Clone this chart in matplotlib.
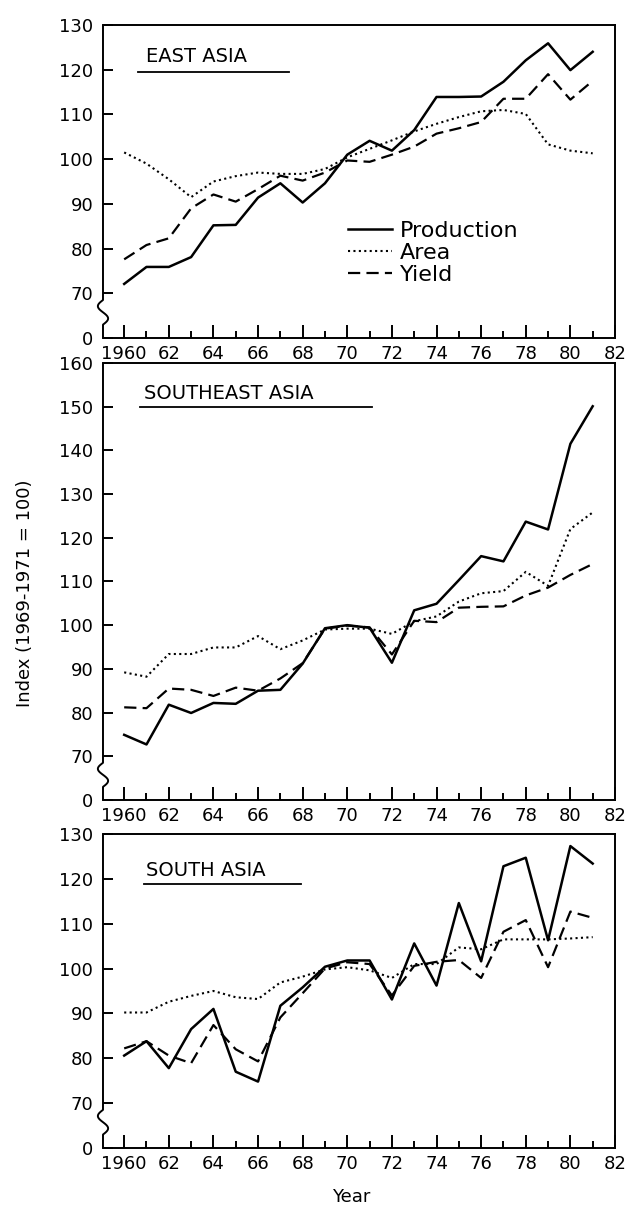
import numpy as np
import matplotlib.pyplot as plt
from matplotlib.ticker import FixedLocator

# index values (1969-71 = 100)
years = list(range(1960, 1982))

east_prod = [72.1, 75.9, 75.9, 78.1, 85.2, 85.3, 91.4, 94.6, 90.3, 94.6, 101.0,
             104.1, 101.9, 106.5, 113.9, 113.9, 114.0, 117.3, 122.1, 125.9, 119.9, 124.0]
east_area = [101.5, 99.0, 95.5, 91.5, 95.0, 96.2, 97.0, 96.7, 96.7, 97.8, 100.4,
             102.3, 104.2, 106.2, 107.9, 109.4, 110.7, 111.0, 110.1, 103.3, 101.9, 101.3]
east_yield = [77.6, 80.8, 82.3, 89.0, 92.1, 90.5, 93.3, 96.3, 95.2, 97.0, 99.7,
              99.4, 101.0, 102.8, 105.7, 106.9, 108.3, 113.5, 113.5, 119.0, 113.3, 117.5]

se_prod = [74.9, 72.7, 81.8, 79.9, 82.2, 82.0, 85.0, 85.2, 91.2, 99.3, 100.0,
           99.4, 91.4, 103.4, 104.9, 110.3, 115.8, 114.6, 123.7, 121.9, 141.5, 150.1]
se_area = [89.2, 88.2, 93.4, 93.4, 94.9, 94.9, 97.5, 94.5, 96.5, 99.0, 99.2,
           99.2, 98.0, 100.9, 102.0, 105.4, 107.3, 107.8, 112.2, 109.0, 122.0, 125.8]
se_yield = [81.2, 81.0, 85.5, 85.2, 83.8, 85.7, 85.0, 87.8, 91.3, 99.2, 99.9,
            99.5, 93.3, 101.0, 100.7, 104.0, 104.2, 104.3, 106.8, 108.6, 111.5, 114.0]

south_prod = [80.6, 83.8, 77.8, 86.5, 91.0, 77.0, 74.8, 91.7, 95.8, 100.4, 101.8,
              101.8, 93.1, 105.6, 96.2, 114.6, 101.6, 122.8, 124.7, 106.3, 127.3, 123.4]
south_area = [90.2, 90.2, 92.6, 93.9, 95.0, 93.6, 93.2, 96.9, 98.2, 99.8, 100.3,
              99.6, 97.9, 101.0, 101.0, 104.7, 104.3, 106.5, 106.5, 106.5, 106.7, 107.0]
south_yield = [82.2, 83.8, 80.6, 78.9, 87.4, 82.0, 79.3, 89.1, 94.5, 100.0, 101.4,
               101.0, 94.0, 100.6, 101.5, 101.9, 97.9, 108.2, 110.8, 100.3, 112.7, 111.3]

xtick_years = list(range(1960, 1983, 2))
xtick_labels = ["1960"] + [str(y)[2:] for y in xtick_years[1:]]

plt.rcParams['font.family'] = 'DejaVu Sans'

fig = plt.figure(figsize=(6.28, 12.06), dpi=100)

# (title, series, top of y scale, axes rect, title pos, underline span)
panels = [
    ("EAST ASIA", east_prod, east_area, east_yield, 130,
     [0.164, 0.7197, 0.8153, 0.2596], (0.084, 0.898), (0.068, 0.363, 0.850)),
    ("SOUTHEAST ASIA", se_prod, se_area, se_yield, 160,
     [0.164, 0.3367, 0.8153, 0.3623], (0.080, 0.931), (0.072, 0.525, 0.899)),
    ("SOUTH ASIA", south_prod, south_area, south_yield, 130,
     [0.164, 0.0481, 0.8153, 0.2604], (0.084, 0.885), (0.080, 0.387, 0.841)),
]

for i, (title, prod, area, yld, ytop, rect, tpos, uline) in enumerate(panels):
    ax = fig.add_axes(rect)
    ax.plot(years, prod, color="k", lw=1.8, ls="-", label="Production")
    ax.plot(years, area, color="k", lw=1.5, ls=(0, (1, 1.6)), label="Area")
    ax.plot(years, yld, color="k", lw=1.6, ls=(0, (5.5, 2.8)), label="Yield")

    ax.set_xlim(1959.05, 1982.0)
    ax.set_ylim(60, ytop)

    # broken axis: bottom tick is labelled 0
    yt = list(range(60, ytop + 1, 10))
    ax.set_yticks(yt)
    ax.set_yticklabels(["0"] + [str(v) for v in yt[1:]])
    ax.set_xticks(xtick_years)
    ax.set_xticklabels(xtick_labels)
    ax.xaxis.set_minor_locator(FixedLocator(list(range(1961, 1982, 2))))

    ax.tick_params(axis="both", which="both", direction="in", top=False,
                   right=False, labelsize=13, width=1.4, colors="k")
    ax.tick_params(axis="y", length=7, pad=7)
    ax.tick_params(axis="x", which="major", length=9.5, pad=5)
    ax.tick_params(axis="x", which="minor", length=5)

    for s in ["top", "right", "bottom"]:
        ax.spines[s].set_linewidth(1.4)
    ax.spines["left"].set_visible(False)

    # left spine with a squiggle between 0 and 70
    t = np.linspace(0, 1, 40)
    sx = np.concatenate([[0, 0], -0.010 * np.sin(2 * np.pi * t), [0, 0]])
    sy = np.concatenate([[ytop, 68.5], 68.5 - 5.5 * t, [63, 60]])
    ax.plot(sx, sy, color="k", lw=1.4, transform=ax.get_yaxis_transform(),
            clip_on=False, solid_capstyle="butt")

    ax.text(tpos[0], tpos[1], title, transform=ax.transAxes, fontsize=14,
            ha="left", va="center")
    ax.plot([uline[0], uline[1]], [uline[2], uline[2]], color="k", lw=1.3,
            transform=ax.transAxes)

    if i == 0:
        ax.legend(loc="upper left", bbox_to_anchor=(0.478, 0.375), frameon=False,
                  fontsize=16, handlelength=2.0, handletextpad=0.35,
                  labelspacing=0.1, borderpad=0, borderaxespad=0)

fig.text(25 / 628, 1 - 593 / 1206, "Index (1969-1971 = 100)", rotation=90,
         fontsize=13, ha="center", va="center")
fig.text(0.56, 1 - 1197 / 1206, "Year", fontsize=13, ha="center", va="center")

plt.savefig("out.png", dpi=100)
